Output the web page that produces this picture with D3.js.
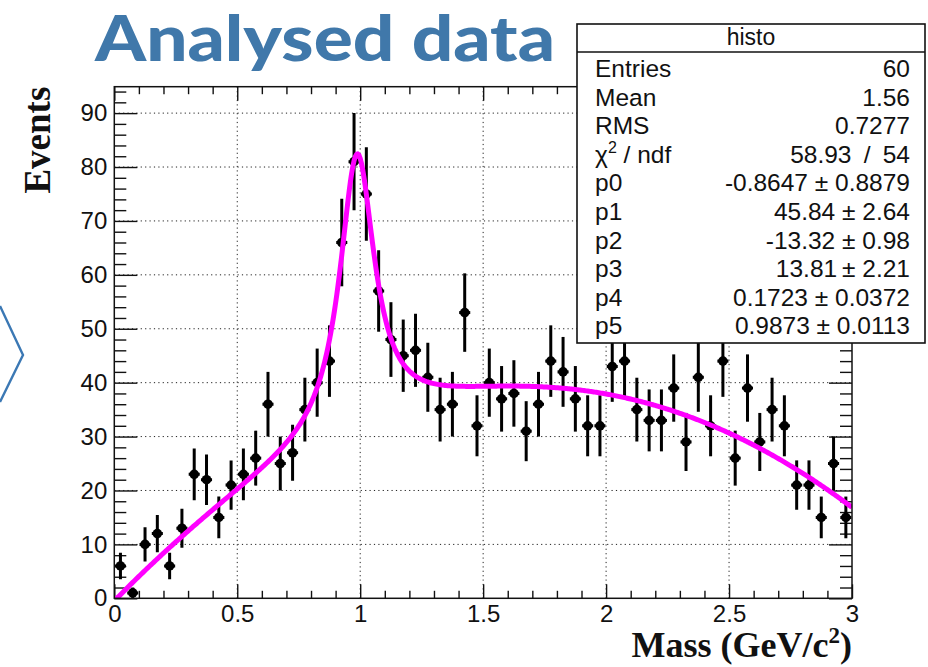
<!DOCTYPE html>
<html>
<head>
<meta charset="utf-8">
<script src="https://cdn.jsdelivr.net/npm/d3@7"></script>
<style>
  html, body { margin: 0; padding: 0; background: #fff; }
  svg { display: block; }
</style>
</head>
<body>
<svg id="chart" width="928" height="667"></svg>
<script>
// Histogram: 60 bins spanning 0–3 GeV/c², one count per bin
const binRange = [0, 3];
const counts = [
   6,  1, 10, 12,  6, 13, 23, 22, 15, 21,
  23, 26, 36, 25, 27, 35, 40, 44, 66, 81,
  75, 57, 48, 45, 46, 41, 35, 36, 53, 32,
  40, 37, 38, 31, 36, 44, 42, 37, 32, 32,
  43, 44, 35, 33, 33, 39, 29, 41, 32, 44,
  26, 39, 29, 35, 32, 21, 21, 15, 25, 15
];

// Axis ticks
const xTicks = [0, 0.5, 1, 1.5, 2, 2.5, 3];
const xTickLabels = ["0", "0.5", "1", "1.5", "2", "2.5", "3"];
const yTicks = [0, 10, 20, 30, 40, 50, 60, 70, 80, 90];
const yMax = 94.9;

// Fit: quadratic background + Lorentzian peak (p0..p5)
const fitNames = ["p0", "p1", "p2", "p3", "p4", "p5"];
const fitParams = [-0.8647, 45.84, -13.32, 13.81, 0.1723, 0.9873];
const fitErrors = [0.8879, 2.64, 0.98, 2.21, 0.0372, 0.0113];

// Statistics box
const statsTitle = "histo";
const statsNames = ["Entries", "Mean", "RMS"];
const statsValues = ["60", "1.56", "0.7277"];
const chi2 = "58.93", ndf = "54";

const svg = d3.select("#chart");

// ---- frame geometry ----
const frame = { left: 114.3, right: 852, top: 86.7, bottom: 598.3 };
const x = d3.scaleLinear().domain(binRange).range([frame.left, frame.right]);
const y = d3.scaleLinear().domain([0, yMax]).range([frame.bottom, frame.top]);

const nBins = counts.length;
const binW = (binRange[1] - binRange[0]) / nBins;
const bins = counts.map((c, i) => ({
  mid: binRange[0] + (i + 0.5) * binW,
  c: c,
  err: Math.sqrt(c)
}));

// ---- decorative chevron and heading ----
svg.append("path")
  .attr("d", "M0,306 L23,355 L0,402")
  .attr("fill", "none")
  .attr("stroke", "#3b78b4")
  .attr("stroke-width", 2.4);

svg.append("text")
  .attr("x", 95).attr("y", 61)
  .attr("font-family", "Lato, 'Open Sans', sans-serif")
  .attr("font-weight", 900)
  .attr("font-size", 62)
  .attr("fill", "#4078aa")
  .attr("textLength", 460)
  .attr("lengthAdjust", "spacingAndGlyphs")
  .text("Analysed data");

// ---- clip for plot contents ----
svg.append("defs").append("clipPath").attr("id", "plotClip")
  .append("rect")
  .attr("x", frame.left).attr("y", frame.top)
  .attr("width", frame.right - frame.left)
  .attr("height", frame.bottom - frame.top);

// ---- dotted grid ----
const grid = svg.append("g").attr("stroke", "#222").attr("stroke-width", 1)
  .attr("stroke-dasharray", "1.2,3.2");
grid.selectAll("line.gx").data(xTicks.filter(t => t > binRange[0] && t < binRange[1]))
  .join("line").attr("class", "gx")
  .attr("x1", d => x(d)).attr("x2", d => x(d))
  .attr("y1", frame.top).attr("y2", frame.bottom);
grid.selectAll("line.gy").data(yTicks.filter(t => t > 0))
  .join("line").attr("class", "gy")
  .attr("y1", d => y(d)).attr("y2", d => y(d))
  .attr("x1", frame.left).attr("x2", frame.right);

// ---- axes (ticks drawn inward on all four sides) ----
const xMinor = d3.range(0, 30.5, 1).map(v => v / 10).filter(v => !xTicks.includes(v));
const yMinor = d3.range(0, yMax, 2).filter(v => v % 10 !== 0);
const tickFont = "'Liberation Sans', Arial, sans-serif";

function styleAxis(g) {
  g.select(".domain").remove();
  g.selectAll(".tick line").attr("stroke", "#111").attr("stroke-width", 1.4);
  g.selectAll(".tick text").attr("fill", "#111")
    .attr("font-family", tickFont).attr("font-size", 24);
}

// bottom
svg.append("g").attr("transform", `translate(0,${frame.bottom})`)
  .call(d3.axisBottom(x).tickValues(xTicks).tickFormat((d, i) => xTickLabels[i])
    .tickSizeInner(-14).tickSizeOuter(0).tickPadding(7))
  .call(styleAxis);
svg.append("g").attr("transform", `translate(0,${frame.bottom})`)
  .call(d3.axisBottom(x).tickValues(xMinor).tickFormat("").tickSizeInner(-7.5).tickSizeOuter(0))
  .call(styleAxis);
// top
svg.append("g").attr("transform", `translate(0,${frame.top})`)
  .call(d3.axisTop(x).tickValues(xTicks).tickFormat("").tickSizeInner(-14).tickSizeOuter(0))
  .call(styleAxis);
svg.append("g").attr("transform", `translate(0,${frame.top})`)
  .call(d3.axisTop(x).tickValues(xMinor).tickFormat("").tickSizeInner(-7.5).tickSizeOuter(0))
  .call(styleAxis);
// left
svg.append("g").attr("transform", `translate(${frame.left},0)`)
  .call(d3.axisLeft(y).tickValues(yTicks).tickFormat(d3.format("d"))
    .tickSizeInner(-23).tickSizeOuter(0).tickPadding(7))
  .call(styleAxis);
svg.append("g").attr("transform", `translate(${frame.left},0)`)
  .call(d3.axisLeft(y).tickValues(yMinor).tickFormat("").tickSizeInner(-12).tickSizeOuter(0))
  .call(styleAxis);
// right
svg.append("g").attr("transform", `translate(${frame.right},0)`)
  .call(d3.axisRight(y).tickValues(yTicks).tickFormat("").tickSizeInner(-23).tickSizeOuter(0))
  .call(styleAxis);
svg.append("g").attr("transform", `translate(${frame.right},0)`)
  .call(d3.axisRight(y).tickValues(yMinor).tickFormat("").tickSizeInner(-12).tickSizeOuter(0))
  .call(styleAxis);

// ---- data points with Poisson errors ----
const pts = svg.append("g").attr("clip-path", "url(#plotClip)");
pts.selectAll("line.ev").data(bins).join("line").attr("class", "ev")
  .attr("x1", d => x(d.mid)).attr("x2", d => x(d.mid))
  .attr("y1", d => y(d.c - d.err)).attr("y2", d => y(d.c + d.err))
  .attr("stroke", "#000").attr("stroke-width", 3);
pts.selectAll("line.eh").data(bins).join("line").attr("class", "eh")
  .attr("x1", d => x(d.mid - 0.45 * binW)).attr("x2", d => x(d.mid + 0.45 * binW))
  .attr("y1", d => y(d.c)).attr("y2", d => y(d.c))
  .attr("stroke", "#000").attr("stroke-width", 3);
pts.selectAll("circle").data(bins).join("circle")
  .attr("cx", d => x(d.mid)).attr("cy", d => y(d.c)).attr("r", 4.8)
  .attr("fill", "#000");

// ---- fit curve ----
function fitModel(v, p) {
  const bg = p[0] + p[1] * v + p[2] * v * v;
  const peak = (0.5 * p[3] * p[4] / Math.PI) /
    Math.max(1e-10, (v - p[5]) * (v - p[5]) + 0.25 * p[4] * p[4]);
  return bg + peak;
}
const curveX = d3.range(0, 601).map(i => binRange[0] + (binRange[1] - binRange[0]) * i / 600);
svg.append("path")
  .attr("clip-path", "url(#plotClip)")
  .datum(curveX)
  .attr("d", d3.line().x(v => x(v)).y(v => y(fitModel(v, fitParams))))
  .attr("fill", "none")
  .attr("stroke", "#ff00ff")
  .attr("stroke-width", 5)
  .attr("stroke-linejoin", "round");

// ---- frame ----
svg.append("rect")
  .attr("x", frame.left).attr("y", frame.top)
  .attr("width", frame.right - frame.left).attr("height", frame.bottom - frame.top)
  .attr("fill", "none").attr("stroke", "#111").attr("stroke-width", 1.5);

// ---- axis titles ----
const titleFont = "'Liberation Serif', 'Times New Roman', serif";
svg.append("text")
  .attr("transform", `translate(50,${frame.top}) rotate(-90)`)
  .attr("text-anchor", "end")
  .attr("font-family", titleFont).attr("font-weight", "bold").attr("font-size", 37)
  .attr("fill", "#111")
  .text("Events");

const xt = svg.append("text")
  .attr("x", frame.right).attr("y", 657)
  .attr("text-anchor", "end")
  .attr("font-family", titleFont).attr("font-weight", "bold").attr("font-size", 36)
  .attr("fill", "#111");
xt.append("tspan").text("Mass (GeV/c");
xt.append("tspan").attr("font-size", 23).attr("dy", -14).text("2");
xt.append("tspan").attr("dy", 14).text(")");

// ---- statistics box ----
const box = { x: 577, y: 24, w: 348, h: 319, head: 28 };
const statFont = 24.5;
const sb = svg.append("g").attr("font-family", tickFont).attr("fill", "#111");
sb.append("rect")
  .attr("x", box.x).attr("y", box.y).attr("width", box.w).attr("height", box.h)
  .attr("fill", "#fff").attr("stroke", "#111").attr("stroke-width", 1.6);
sb.append("line")
  .attr("x1", box.x).attr("x2", box.x + box.w)
  .attr("y1", box.y + box.head).attr("y2", box.y + box.head)
  .attr("stroke", "#111").attr("stroke-width", 1.6);
sb.append("text")
  .attr("x", box.x + box.w / 2).attr("y", box.y + 21)
  .attr("text-anchor", "middle").attr("font-size", 23)
  .text(statsTitle);

const rows = statsNames.map((n, i) => ({ name: n, value: statsValues[i] }));
rows.push({ name: "chi", value: `${chi2}\u2002/\u2002${ndf}` });
fitNames.forEach((n, i) => {
  const sep = i === 3 ? "\u2009± " : " ± ";
  rows.push({ name: n, value: `${fitParams[i]}${sep}${fitErrors[i]}` });
});

const rowY0 = 77, rowStep = 28.6;
rows.forEach((r, i) => {
  const yy = rowY0 + i * rowStep;
  const lab = sb.append("text").attr("x", box.x + 18).attr("y", yy).attr("font-size", statFont);
  if (r.name === "chi") {
    lab.append("tspan").text("χ");
    lab.append("tspan").attr("font-size", 16).attr("dy", -10).text("2");
    lab.append("tspan").attr("dy", 10).text(" / ndf");
  } else {
    lab.text(r.name);
  }
  sb.append("text").attr("x", box.x + box.w - 15).attr("y", yy)
    .attr("text-anchor", "end").attr("font-size", statFont)
    .text(r.value);
});
</script>
</body>
</html>
